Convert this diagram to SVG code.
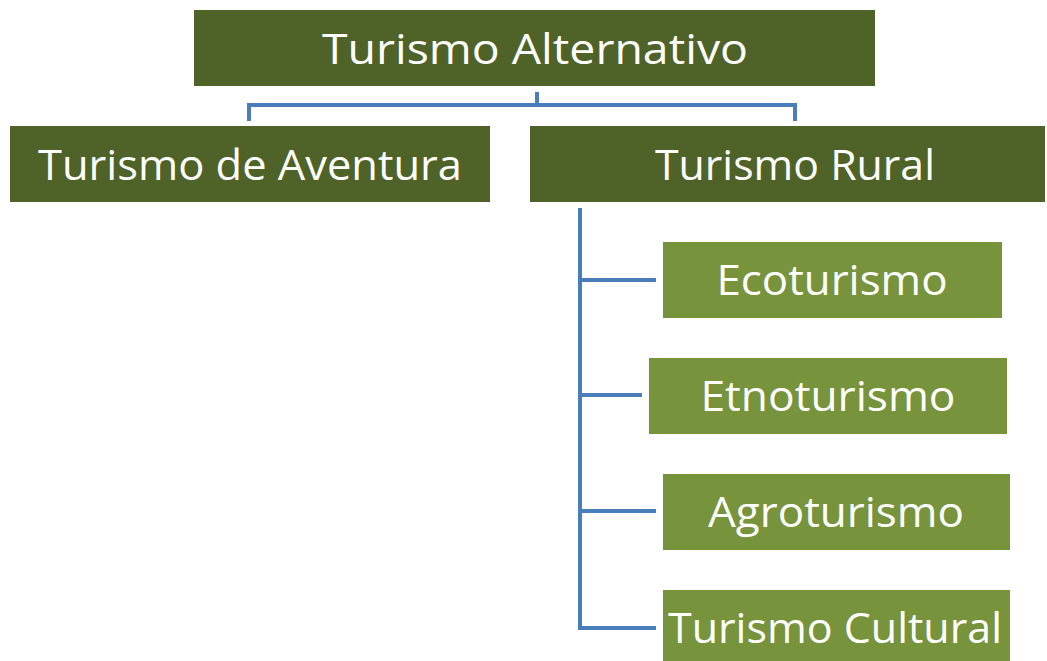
<svg xmlns="http://www.w3.org/2000/svg" width="1047" height="661" viewBox="0 0 1047 661">
<style>
.dark{fill:#4f6228}
.light{fill:#77933c}
.t{fill:#ffffff;font-family:"Open Sans","Liberation Sans",sans-serif;font-size:42px;text-anchor:middle}
.c{fill:none;stroke:#4a7ebb;stroke-width:4}
</style>
<rect width="1047" height="661" fill="#ffffff"/>
<g id="connectors">
<path class="c" d="M537 92V105M249 121V105H795V121"/>
<path class="c" d="M580 208V628H656M580 280H656M580 395H642M580 511H656"/>
</g>
<g id="n-alt"><rect class="dark" x="194" y="10" width="681" height="76"/><text class="t" x="535" y="64" textLength="426" lengthAdjust="spacingAndGlyphs">Turismo Alternativo</text></g>
<g id="n-aventura"><rect class="dark" x="10" y="126" width="480" height="76"/><text class="t" x="250" y="180" textLength="424" lengthAdjust="spacingAndGlyphs">Turismo de Aventura</text></g>
<g id="n-rural"><rect class="dark" x="530" y="126" width="515" height="76"/><text class="t" x="795" y="180" textLength="280" lengthAdjust="spacingAndGlyphs">Turismo Rural</text></g>
<g id="n-eco"><rect class="light" x="663" y="242" width="339" height="76"/><text class="t" x="832" y="295" textLength="231" lengthAdjust="spacingAndGlyphs">Ecoturismo</text></g>
<g id="n-etno"><rect class="light" x="649" y="358" width="358" height="76"/><text class="t" x="828" y="411" textLength="255" lengthAdjust="spacingAndGlyphs">Etnoturismo</text></g>
<g id="n-agro"><rect class="light" x="663" y="474" width="347" height="76"/><text class="t" x="836" y="527" textLength="256" lengthAdjust="spacingAndGlyphs">Agroturismo</text></g>
<g id="n-cultural"><rect class="light" x="663" y="590" width="347" height="76"/><text class="t" x="835" y="643" textLength="334" lengthAdjust="spacingAndGlyphs">Turismo Cultural</text></g>
</svg>
